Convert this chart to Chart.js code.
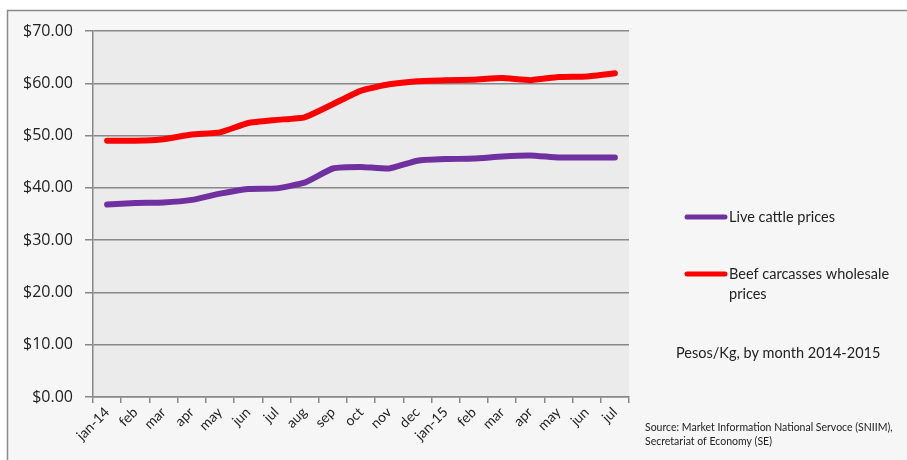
<!DOCTYPE html>
<html>
<head>
<meta charset="utf-8">
<script src="https://cdn.jsdelivr.net/npm/chart.js@4/dist/chart.umd.min.js"></script>
<style>
  html, body { margin: 0; padding: 0; background: #ffffff; }
  #wrap { position: relative; width: 907px; height: 460px; }
</style>
</head>
<body>
<div id="wrap"><canvas id="c" width="907" height="460"></canvas></div>
<script>
const categories = ["jan-14","feb","mar","apr","may","jun","jul","aug","sep","oct","nov","dec","jan-15","feb","mar","apr","may","jun","jul"];
const liveCattle = [36.8, 37.1, 37.2, 37.7, 38.9, 39.8, 39.9, 41.0, 43.7, 44.0, 43.7, 45.2, 45.5, 45.6, 46.0, 46.2, 45.8, 45.8, 45.8];
const beefCarcasses = [49.0, 49.0, 49.3, 50.2, 50.6, 52.4, 53.0, 53.5, 56.0, 58.6, 59.8, 60.4, 60.6, 60.7, 61.0, 60.6, 61.2, 61.3, 61.9];
const seriesNames = ["Live cattle prices", "Beef carcasses wholesale prices"];
const noteText = "Pesos/Kg, by month 2014-2015";
const sourceLines = ["Source: Market Information National Servoce (SNIIM),", "Secretariat of Economy (SE)"];

const FONT = "Lato, 'Open Sans', sans-serif";
const YFONT = "'Open Sans', Lato, sans-serif";

const decorPlugin = {
  id: 'decor',
  beforeDraw(chart) {
    const ctx = chart.ctx;
    const a = chart.chartArea;
    ctx.save();
    ctx.fillStyle = '#ffffff';
    ctx.fillRect(0, 0, chart.width, chart.height);
    ctx.fillStyle = '#f6f6f6';
    ctx.fillRect(7, 10, chart.width - 7, chart.height - 10);
    ctx.strokeStyle = '#8a8a8a';
    ctx.lineWidth = 1.5;
    ctx.beginPath();
    ctx.moveTo(7.5, chart.height);
    ctx.lineTo(7.5, 10.5);
    ctx.lineTo(chart.width, 10.5);
    ctx.stroke();
    ctx.fillStyle = '#ebebeb';
    ctx.fillRect(a.left, a.top, a.right - a.left, a.bottom - a.top);
    ctx.restore();
  },
  afterDraw(chart) {
    const ctx = chart.ctx;
    ctx.save();
    const ys = [217, 274];
    chart.data.datasets.forEach((ds, i) => {
      ctx.strokeStyle = ds.borderColor;
      ctx.lineWidth = 5;
      ctx.lineCap = 'round';
      ctx.beginPath();
      ctx.moveTo(687, ys[i]);
      ctx.lineTo(725, ys[i]);
      ctx.stroke();
    });
    ctx.fillStyle = '#222';
    ctx.font = "14.5px " + FONT;
    ctx.textBaseline = 'middle';
    ctx.textAlign = 'left';
    ctx.fillText(seriesNames[0], 729, ys[0]);
    ctx.fillText("Beef carcasses wholesale", 729, ys[1]);
    ctx.fillText("prices", 729, ys[1] + 20);
    ctx.font = "14.5px " + FONT;
    ctx.fillText(noteText, 676, 353);
    ctx.font = "10.5px " + FONT;
    ctx.fillText(sourceLines[0], 645, 428);
    ctx.fillText(sourceLines[1], 645, 442);
    ctx.restore();
  }
};

new Chart(document.getElementById('c'), {
  type: 'line',
  data: {
    labels: categories,
    datasets: [
      { label: seriesNames[0], data: liveCattle, borderColor: '#7030a0', backgroundColor: '#7030a0', borderWidth: 6, pointRadius: 0, tension: 0.15, borderCapStyle: 'round', borderJoinStyle: 'round' },
      { label: seriesNames[1], data: beefCarcasses, borderColor: '#ff0000', backgroundColor: '#ff0000', borderWidth: 6, pointRadius: 0, tension: 0.15, borderCapStyle: 'round', borderJoinStyle: 'round' }
    ]
  },
  options: {
    responsive: false,
    animation: false,
    events: [],
    layout: { padding: { left: 0, right: 278, top: 31, bottom: 0 } },
    plugins: { legend: { display: false }, tooltip: { enabled: false } },
    scales: {
      x: {
        offset: true,
        grid: { offset: true, drawOnChartArea: false, drawTicks: true, tickLength: 6, color: '#888', lineWidth: 1.5 },
        border: { display: true, color: '#888', width: 1.5 },
        ticks: { autoSkip: false, maxRotation: 45, minRotation: 45, padding: 1, color: '#222', font: { family: FONT, size: 14 } },
        afterFit(scale) { scale.height = 63; }
      },
      y: {
        min: 0, max: 70,
        grid: { color: '#888', lineWidth: 1.5, tickLength: 8 },
        border: { display: true, color: '#888', width: 1.5 },
        ticks: { stepSize: 10, padding: 12, color: '#222', font: { family: YFONT, size: 16 }, callback: v => '$' + Number(v).toFixed(2) },
        afterFit(scale) { scale.width = 93; }
      }
    }
  },
  plugins: [decorPlugin]
});
</script>
</body>
</html>
